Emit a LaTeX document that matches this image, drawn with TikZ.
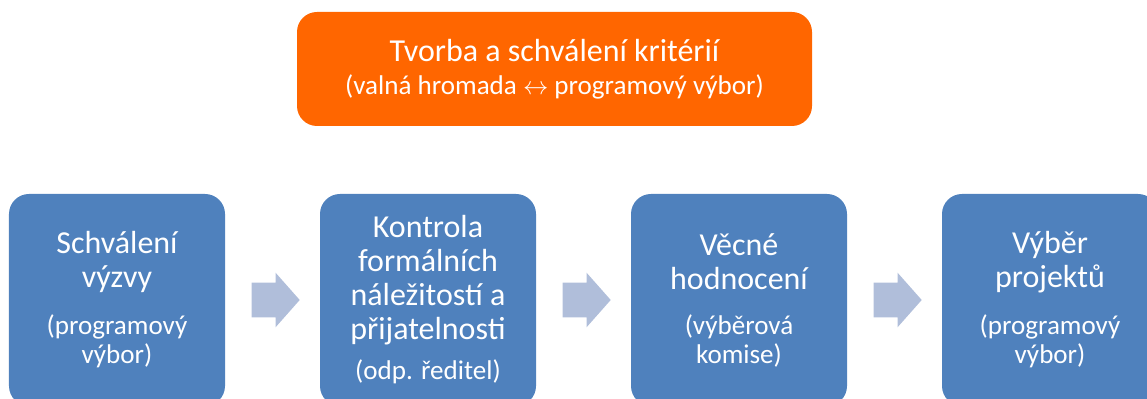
\documentclass[tikz,border=0pt]{standalone}
\usepackage{fontspec}
\setmainfont{Carlito}
\usetikzlibrary{shapes.arrows,calc}
\definecolor{critorange}{HTML}{FF6600}
\definecolor{stepblue}{HTML}{4F81BD}
\definecolor{arrowblue}{HTML}{B0BEDA}
\newcommand{\subtext}[1]{{\fontsize{15.4}{16.5}\selectfont #1}}
\begin{document}
\begin{tikzpicture}[
    box/.style={rounded corners=0.4cm, text=white, align=center, inner sep=0pt,
      font={\fontsize{18.2}{19.35}\selectfont\lineskiplimit=-50pt}},
    critbox/.style={box, fill=critorange, minimum width=10.3cm, minimum height=2.28cm},
    stepbox/.style={box, fill=stepblue, minimum width=4.32cm, minimum height=4.24cm},
    flowarrow/.style={single arrow, fill=arrowblue, inner xsep=0pt, inner ysep=0.34cm,
      minimum height=0.96cm, single arrow head extend=0.2cm, single arrow tip angle=97}
  ]
  \useasboundingbox (0,0) rectangle (22.94,7.98);
  \clip (0,0) rectangle (22.94,7.98);

  % Criteria box on top
  \node [critbox] (crit) at (11.09,6.60)
    {Tvorba a schválení kritérií\\[-0.55pt]\subtext{(valná hromada $\leftrightarrow$ programový výbor)}};

  % The four steps
  \node [stepbox] (s1) at (2.34,1.98)
    {Schválení\\výzvy\\[7.4pt]\subtext{(programový}\\[-2.85pt]\subtext{výbor)}};
  \node [stepbox] (s2) at (8.56,1.98)
    {Kontrola\\formálních\\náležitostí a\\přijatelnosti\\[3.4pt]\subtext{(odp. ředitel)}};
  \node [stepbox] (s3) at (14.78,1.98)
    {Věcné\\hodnocení\\[6.25pt]\subtext{(výběrová}\\[-2.85pt]\subtext{komise)}};
  \node [stepbox] (s4) at (21.0,1.98)
    {Výběr\\projektů\\[7.4pt]\subtext{(programový}\\[-2.85pt]\subtext{výbor)}};

  % Block arrows between the steps
  \foreach \i in {1,2,3} {
    \node [flowarrow, anchor=tail] (a\i) at ($(s\i.east)+(0.52,0)$) {};
  }
\end{tikzpicture}
\end{document}
